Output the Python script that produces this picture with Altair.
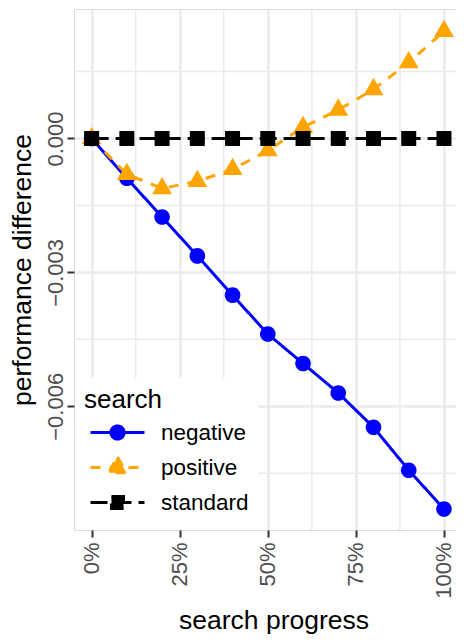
import altair as alt
import pandas as pd

# ---- data ----
progress = [0.0, 0.1, 0.2, 0.3, 0.4, 0.5, 0.6, 0.7, 0.8, 0.9, 1.0]
negative = [0.0, -0.00089, -0.00176, -0.00263, -0.00351, -0.00438, -0.00504, -0.00570, -0.00647, -0.00743, -0.00830]
positive = [0.0, -0.00080, -0.00112, -0.00096, -0.00069, -0.00027, 0.00025, 0.00064, 0.00110, 0.00170, 0.00240]
standard = [0.0, 0.0, 0.0, 0.0, 0.0, 0.0, 0.0, 0.0, 0.0, 0.0, 0.0]
series_names = ["negative", "positive", "standard"]
series_colors = ["#0000FF", "#FFA500", "#000000"]
series_dashes = [[1, 0], [10, 9], [17, 7]]
x_ticks = [0.0, 0.25, 0.5, 0.75, 1.0]
x_minor = [0.125, 0.375, 0.625, 0.875]
y_ticks = [0.0, -0.003, -0.006]
y_minor = [0.0015, -0.0015, -0.0045, -0.0075]

rows = []
for name, vals in zip(series_names, [negative, positive, standard]):
    for p, v in zip(progress, vals):
        rows.append({"progress": p, "value": v, "search": name})
df = pd.DataFrame(rows)

FONT = "Liberation Sans"
GRID = "#EBEBEB"

xscale = alt.Scale(domain=[-0.05, 1.0824], nice=False, zero=False)
yscale = alt.Scale(domain=[-0.00877, 0.0029], nice=False, zero=False)

x_axis = alt.Axis(values=x_ticks, format=".0%", labelAngle=-90, labelAlign="right",
                  labelBaseline="middle", labelFontSize=22, labelColor="#4D4D4D",
                  labelPadding=5, tickColor="#333333", tickWidth=2, tickSize=7,
                  domain=False, grid=True, gridColor=GRID, gridWidth=2.6,
                  title="search progress", titleFontSize=26.5, titleFontWeight="normal",
                  titleColor="#000000", titlePadding=9, labelFont=FONT, titleFont=FONT)
y_axis = alt.Axis(values=y_ticks, format=".3f", labelAngle=-90, labelAlign="center",
                  labelBaseline="alphabetic", labelFontSize=22, labelColor="#4D4D4D",
                  labelPadding=5, tickColor="#333333", tickWidth=2, tickSize=7,
                  domain=False, grid=True, gridColor=GRID, gridWidth=2.6,
                  title="performance difference", titleFontSize=26.5, titleFontWeight="normal",
                  titleColor="#000000", titlePadding=8, labelFont=FONT, titleFont=FONT)

legend = alt.Legend(
    title="search", orient="bottom-left", offset=1, padding=9, gridAlign="all",
    fillColor="#FFFFFF", titleFontSize=26, titleFontWeight="normal", titleColor="#000000",
    titleFont=FONT, labelFont=FONT, labelFontSize=22.5, labelColor="#000000",
    symbolSize=400, symbolStrokeWidth=3, symbolOpacity=1, symbolOffset=22, labelOffset=32,
    rowPadding=0, titlePadding=8,
)

# legend key glyphs: a line segment plus the marker, as custom symbol paths
legend_paths = [
    "M0,-1.1M0,1.1M-2.7,0L2.7,0M-0.66,0A0.66,0.66,0,1,1,0.66,0A0.66,0.66,0,1,1,-0.66,0Z",
    "M0,-1.1M0,1.1M-2.7,0L2.7,0M0,-1.04L0.9,0.52L-0.9,0.52Z",
    "M0,-1.1M0,1.1M-2.7,0L2.7,0M-0.6,-0.6L0.6,-0.6L0.6,0.6L-0.6,0.6Z",
]
# plot markers (triangle centred on its centroid, like ggplot)
marker_paths = [
    "M-0.78,0A0.78,0.78,0,1,1,0.78,0A0.78,0.78,0,1,1,-0.78,0Z",
    "M0,-1.155L1,0.577L-1,0.577Z",
    "M-0.75,-0.75L0.75,-0.75L0.75,0.75L-0.75,0.75Z",
]

cscale = alt.Scale(domain=series_names, range=series_colors)
dscale = alt.Scale(domain=series_names, range=series_dashes)

X = alt.X("progress:Q", scale=xscale, axis=x_axis)
Y = alt.Y("value:Q", scale=yscale, axis=y_axis)

minor_x = alt.Chart(pd.DataFrame({"progress": x_minor})).mark_rule(color=GRID, strokeWidth=1.5).encode(x=X)
minor_y = alt.Chart(pd.DataFrame({"value": y_minor})).mark_rule(color=GRID, strokeWidth=1.5).encode(y=Y)

lines = alt.Chart(df).mark_line(strokeWidth=3).encode(
    x=X, y=Y,
    color=alt.Color("search:N", scale=cscale, legend=legend),
    strokeDash=alt.StrokeDash("search:N", scale=dscale, legend=legend),
)

# invisible layer that only carries the legend keys
legend_layer = alt.Chart(df).mark_point(filled=True, opacity=0, size=400, strokeWidth=3).encode(
    x=X, y=Y,
    color=alt.Color("search:N", scale=cscale, legend=legend),
    stroke=alt.Stroke("search:N", scale=cscale, legend=legend),
    shape=alt.Shape("search:N", scale=alt.Scale(domain=series_names, range=legend_paths), legend=legend),
    strokeDash=alt.StrokeDash("search:N", scale=dscale, legend=legend),
)

point_layers = []
for name, col, path in zip(series_names, series_colors, marker_paths):
    point_layers.append(
        alt.Chart(df).transform_filter(alt.datum.search == name)
        .mark_point(filled=True, opacity=1, size=400, strokeWidth=0, color=col, shape=path)
        .encode(x=X, y=Y)
    )

chart = alt.layer(minor_x, minor_y, lines, legend_layer, *point_layers).properties(
    width=399, height=521,
    autosize=alt.AutoSizeParams(type="none"),
    padding={"left": 66, "top": 1, "right": -17, "bottom": 106},
).configure_view(stroke="#333333", strokeWidth=2, fill="#FFFFFF").configure(
    background="#FFFFFF", font=FONT)

chart.save("out.html", embed_options={"renderer": "svg", "actions": False})
